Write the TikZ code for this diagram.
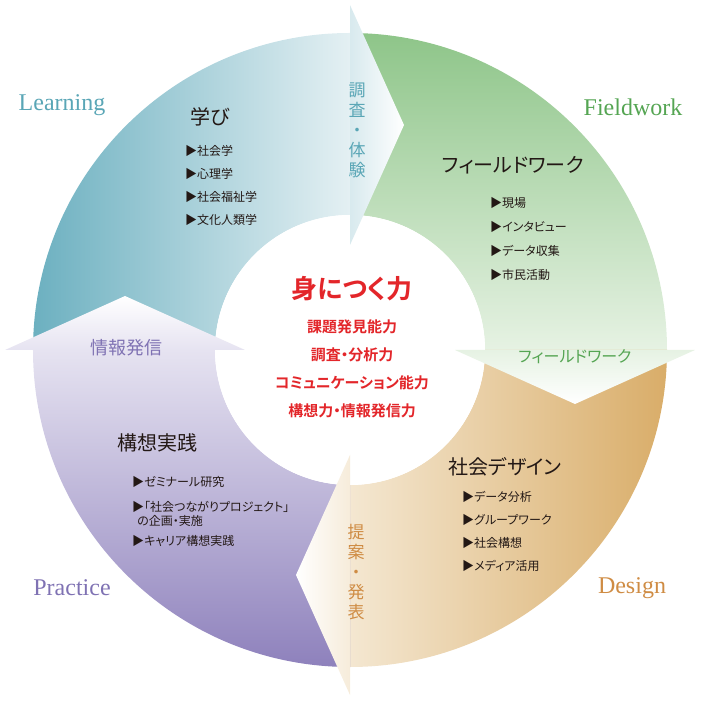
\documentclass[tikz,border=0pt]{standalone}
\usepackage{fontspec}
\setmainfont{Liberation Serif}
\newfontfamily\cjk[RawFeature=+palt]{Noto Sans CJK JP}
\newfontfamily\cjkbold[RawFeature=+palt]{Noto Sans CJK JP Bold}
\usetikzlibrary{positioning}

\definecolor{learndark}{HTML}{6CB0C0}
\definecolor{learnlight}{HTML}{E4F0F3}
\definecolor{fielddark}{HTML}{8EC589}
\definecolor{fieldlight}{HTML}{E6F2E3}
\definecolor{designdark}{HTML}{D9AD69}
\definecolor{designlight}{HTML}{F4E7D1}
\definecolor{practdark}{HTML}{8E81BC}
\definecolor{practlight}{HTML}{E6E3F1}
\definecolor{learntext}{HTML}{5AA6B6}
\definecolor{fieldtext}{HTML}{55A553}
\definecolor{designtext}{HTML}{CF8C44}
\definecolor{practtext}{HTML}{7F72B3}
\definecolor{titletext}{HTML}{231815}
\definecolor{redtext}{HTML}{E3262A}

\begin{document}
\begin{tikzpicture}[x=1pt,y=1pt,
  mytitle/.style={font=\cjk\fontsize{20}{24}\selectfont, text=titletext},
  mylist/.style={font=\cjk\fontsize{12}{23}\selectfont, text=titletext,
     align=left, anchor=north west, inner sep=0pt},
  mycorner/.style={font=\fontsize{24}{28}\selectfont},
  myvert/.style={font=\cjk\fontsize{17}{20}\selectfont, align=center},
  myflow/.style={font=\cjk\fontsize{17}{20}\selectfont},
  mycenter/.style={font=\cjkbold\fontsize{15}{28}\selectfont, text=redtext, align=center}
  ]
\useasboundingbox (-350,-361) rectangle (361,350);

% ring quarters
\shade[left color=learndark, right color=learnlight]
  (180:317) arc (180:90:317) -- (90:135) arc (90:180:135) -- cycle;
\shade[top color=fielddark, bottom color=fieldlight]
  (90:317) arc (90:0:317) -- (0:135) arc (0:90:135) -- cycle;
\shade[right color=designdark, left color=designlight]
  (0:317) arc (0:-90:317) -- (-90:135) arc (-90:0:135) -- cycle;
\shade[bottom color=practdark, top color=practlight]
  (-90:317) arc (-90:-180:317) -- (-180:135) arc (-180:-90:135) -- cycle;

\fill[white] (0,0) circle (135);

% arrow heads
\shade[left color=learnlight!90!learndark, right color=white] (0,345) -- (54,225) -- (0,105) -- cycle;
\shade[top color=fieldlight, bottom color=white] (105,0) -- (225,-54) -- (345,0) -- cycle;
\shade[right color=designlight!80!white, left color=white] (0,-105) -- (-54,-225) -- (0,-345) -- cycle;
\shade[bottom color=practlight, top color=white] (-105,0) -- (-225,54) -- (-345,0) -- cycle;

% corner labels
\node[mycorner, text=learntext]  (learning)  at (-288,245)  {Learning};
\node[mycorner, text=fieldtext]  (fieldwork) at (283,243)   {Fieldwork};
\node[mycorner, text=designtext] (design)    at (282,-238)  {Design};
\node[mycorner, text=practtext]  (practice)  at (-278,-238) {Practice};

% titles and lists
\node[mytitle] (manabi) at (-140,233) {学び};
\node[mylist]  (manabilist) at (-165,205) {▶社会学\\▶心理学\\▶社会福祉学\\▶文化人類学};

\node[mytitle] (field) at (163,185) {フィールドワーク};
\node[mylist, font=\cjk\fontsize{12}{24}\selectfont] (fieldlist) at (140,153)
  {▶現場\\▶インタビュー\\▶データ収集\\▶市民活動};

\node[mytitle] (shakai) at (155,-117) {社会デザイン};
\node[mylist]  (shakailist) at (112,-141) {▶データ分析\\▶グループワーク\\▶社会構想\\▶メディア活用};

\node[mytitle] (koso) at (-192,-93) {構想実践};
\node[mylist]  (kosolist) at (-218,-126)
  {▶ゼミナール研究\\[2pt]▶「社会つながりプロジェクト」\\[-9pt]\hspace*{5pt}の企画・実施\\[-3pt]▶キャリア構想実践};

% labels on the arrows
\node[myvert, text=learntext]  (chosa)  at (7,220)   {調\\査\\・\\体\\験};
\node[myflow, text=fieldtext, font=\cjk\fontsize{16}{20}\selectfont] (fieldarrow) at (225,-7) {フィールドワーク};
\node[myvert, text=designtext] (teian)  at (6,-222)  {提\\案\\・\\発\\表};
\node[myflow, text=practtext, font=\cjk\fontsize{18}{20}\selectfont]  (joho) at (-223,2) {情報発信};

% centre
\node[text=redtext, font=\cjkbold\fontsize{26}{30}\selectfont] (mikata) at (2,61) {身につく力};
\node[mycenter] (chikara) at (2,-19)
  {課題発見能力\\調査・分析力\\コミュニケーション能力\\構想力・情報発信力};

\end{tikzpicture}
\end{document}
